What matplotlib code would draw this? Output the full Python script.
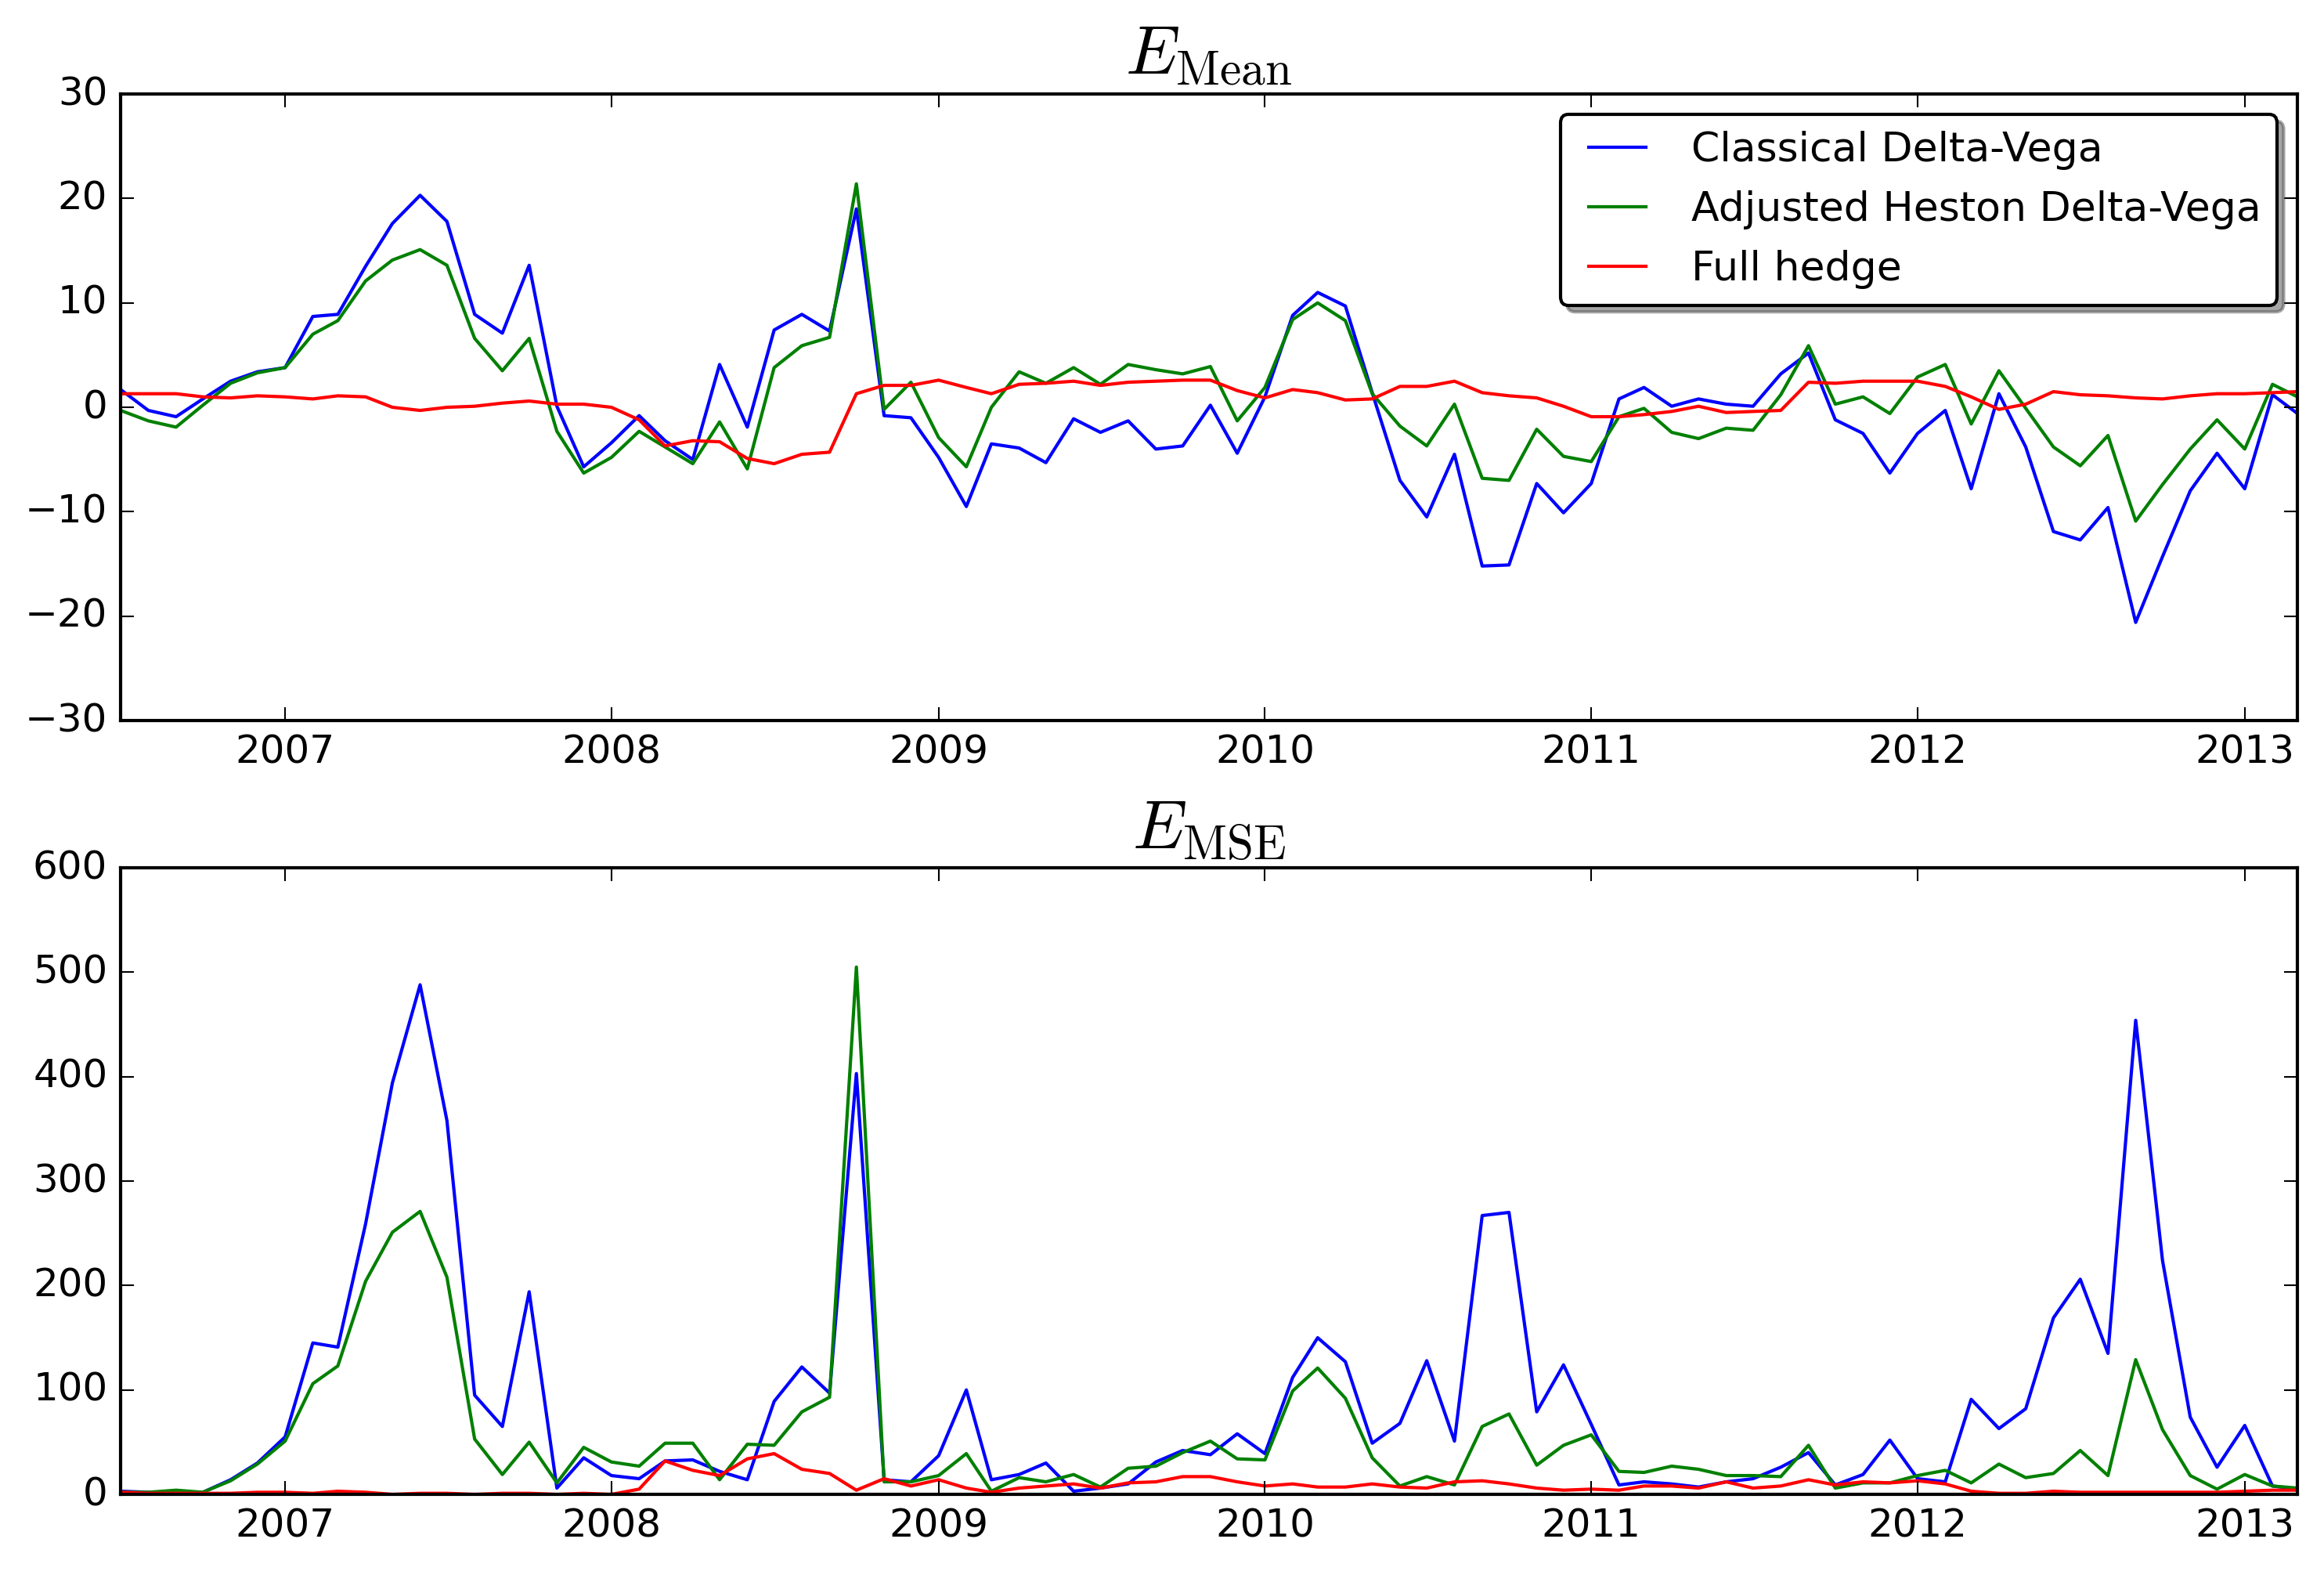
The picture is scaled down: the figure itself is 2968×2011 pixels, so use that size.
import matplotlib
matplotlib.use("Agg")
import matplotlib.pyplot as plt
import matplotlib.dates as mdates
import pandas as pd

plt.style.use("classic")

# monthly observation dates
dates = pd.date_range("2006-07-01", "2013-03-01", freq="MS")

# E_Mean values
mean_classical = [1.7, -0.3, -0.9, 0.8, 2.5, 3.4, 3.8, 8.7, 8.9, 13.5, 17.6, 20.3, 17.8, 8.9, 7.1, 13.6,
                  0.1, -5.7, -3.4, -0.8, -3.2, -5.0, 4.1, -1.9, 7.4, 8.9, 7.3, 19.0, -0.8, -1.0, -4.8, -9.5,
                  -3.5, -3.9, -5.3, -1.1, -2.4, -1.3, -4.0, -3.7, 0.2, -4.4, 1.0, 8.8, 11.0, 9.7, 1.4, -7.0,
                  -10.5, -4.5, -15.2, -15.1, -7.3, -10.1, -7.3, 0.8, 1.9, 0.1, 0.8, 0.3, 0.1, 3.2, 5.2, -1.2,
                  -2.5, -6.3, -2.5, -0.3, -7.8, 1.3, -3.8, -11.9, -12.7, -9.6, -20.6, -14.3, -8.0, -4.4, -7.8,
                  1.2, -0.6]
mean_heston = [-0.3, -1.3, -1.9, 0.2, 2.3, 3.3, 3.8, 7.0, 8.3, 12.1, 14.1, 15.1, 13.6, 6.6, 3.5, 6.6,
               -2.3, -6.3, -4.8, -2.3, -3.8, -5.4, -1.4, -5.9, 3.8, 5.9, 6.7, 21.4, -0.2, 2.4, -2.9, -5.7,
               0.0, 3.4, 2.3, 3.8, 2.2, 4.1, 3.6, 3.2, 3.9, -1.3, 1.9, 8.4, 10.0, 8.3, 1.3, -1.8,
               -3.7, 0.3, -6.8, -7.0, -2.1, -4.7, -5.2, -0.9, -0.1, -2.4, -3.0, -2.0, -2.2, 1.2, 5.9, 0.3,
               1.0, -0.6, 2.9, 4.1, -1.6, 3.5, -0.1, -3.8, -5.6, -2.7, -10.9, -7.4, -4.0, -1.2, -4.0,
               2.2, 1.0]
mean_full = [1.3, 1.3, 1.3, 1.0, 0.9, 1.1, 1.0, 0.8, 1.1, 1.0, 0.0, -0.3, 0.0, 0.1, 0.4, 0.6,
             0.3, 0.3, 0.0, -1.2, -3.7, -3.2, -3.3, -4.9, -5.4, -4.5, -4.3, 1.3, 2.1, 2.1, 2.6, 1.9,
             1.3, 2.2, 2.3, 2.5, 2.1, 2.4, 2.5, 2.6, 2.6, 1.6, 0.9, 1.7, 1.4, 0.7, 0.8, 2.0,
             2.0, 2.5, 1.4, 1.1, 0.9, 0.1, -0.9, -0.9, -0.7, -0.4, 0.1, -0.5, -0.4, -0.3, 2.4, 2.3,
             2.5, 2.5, 2.5, 2.0, 1.0, -0.2, 0.3, 1.5, 1.2, 1.1, 0.9, 0.8, 1.1, 1.3, 1.3,
             1.4, 1.5]

# E_MSE values
mse_classical = [3, 2, 1, 2, 14, 30, 55, 145, 141, 259, 394, 488, 358, 95, 65, 194,
                 6, 35, 18, 15, 32, 33, 22, 14, 89, 122, 97, 403, 14, 12, 37, 100,
                 14, 19, 30, 3, 6, 10, 31, 42, 38, 58, 39, 112, 150, 127, 49, 68,
                 128, 51, 267, 270, 79, 124, 67, 9, 12, 10, 7, 12, 15, 26, 40, 9,
                 19, 52, 15, 12, 91, 63, 82, 169, 206, 135, 454, 224, 74, 26, 66,
                 8, 5]
mse_heston = [2, 2, 4, 2, 13, 29, 51, 106, 123, 204, 251, 271, 208, 53, 19, 50,
              11, 45, 31, 27, 49, 49, 14, 48, 47, 79, 93, 505, 12, 12, 18, 39,
              3, 16, 12, 19, 7, 25, 27, 40, 51, 34, 33, 99, 121, 92, 35, 8,
              17, 9, 65, 77, 28, 47, 57, 22, 21, 27, 24, 18, 18, 17, 47, 6,
              11, 11, 18, 23, 11, 29, 16, 20, 42, 18, 129, 62, 18, 5, 19,
              8, 6]
mse_full = [2, 1, 1, 1, 1, 2, 2, 1, 3, 2, 0, 1, 1, 0, 1, 1,
            0, 1, 0, 5, 32, 23, 18, 34, 39, 24, 20, 4, 15, 8, 14, 6,
            2, 6, 8, 10, 6, 11, 12, 17, 17, 12, 8, 10, 7, 7, 10, 7,
            6, 12, 13, 10, 6, 4, 5, 4, 8, 8, 6, 12, 6, 8, 14, 9,
            12, 11, 13, 10, 3, 1, 1, 3, 2, 2, 2, 2, 2, 2, 3,
            4, 4]

labels = ["Classical Delta-Vega", "Adjusted Heston Delta-Vega", "Full hedge"]

fig = plt.figure(figsize=(2968 / 300, 2011 / 300), facecolor="white")
ax1 = fig.add_axes([0.0519, 0.5425, 0.9367, 0.3978])
ax2 = fig.add_axes([0.0519, 0.0512, 0.9367, 0.3978])

ax1.plot(dates, mean_classical, "b", label=labels[0])
ax1.plot(dates, mean_heston, "g", label=labels[1])
ax1.plot(dates, mean_full, "r", label=labels[2])
ax1.set_ylim(-30, 30)
ax1.set_title(r"$E_{\rm Mean}$", fontsize=21, pad=6)
ax1.legend(loc="upper right", fancybox=True, shadow=True, fontsize=12.5, handlelength=2.0)

ax2.plot(dates, mse_classical, "b")
ax2.plot(dates, mse_heston, "g")
ax2.plot(dates, mse_full, "r")
ax2.set_ylim(0, 600)
ax2.set_title(r"$E_{\rm MSE}$", fontsize=21, pad=6)

for ax in (ax1, ax2):
    ax.set_xlim(dates[0], dates[-1])
    ax.xaxis.set_major_locator(mdates.YearLocator())
    ax.xaxis.set_major_formatter(mdates.DateFormatter("%Y"))
    ax.tick_params(labelsize=12)

fig.savefig("out.png", dpi=300, facecolor="white")
